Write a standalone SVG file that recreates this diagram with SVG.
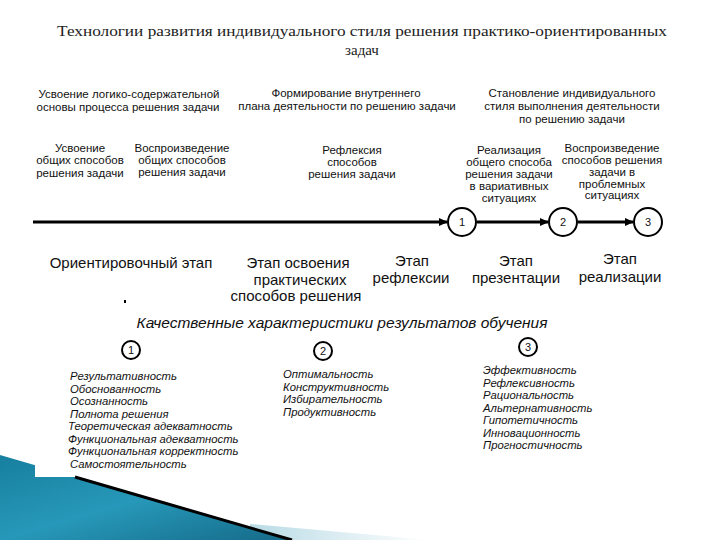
<svg xmlns="http://www.w3.org/2000/svg" width="720" height="540" viewBox="0 0 720 540">
<style>
.t{font-family:"Liberation Serif","Times New Roman","DejaVu Serif","Noto Serif",serif;font-size:15px;fill:#222;text-anchor:middle}
.h{font-family:"Liberation Sans",Arial,sans-serif;font-size:11.5px;fill:#111;text-anchor:middle}
.s{font-family:"Liberation Sans",Arial,sans-serif;font-size:15px;fill:#111;text-anchor:middle}
.i{font-family:"Liberation Sans",Arial,sans-serif;font-size:11.3px;font-style:italic;fill:#111}
.q{font-family:"Liberation Sans",Arial,sans-serif;font-size:15.5px;font-style:italic;fill:#111;text-anchor:middle}
.n{font-family:"Liberation Sans",Arial,sans-serif;font-size:11px;fill:#111;text-anchor:middle}
.c{fill:#fff;stroke:#000;stroke-width:2}
.l{stroke:#000;stroke-width:3;fill:none}
</style>
<defs>
<marker id="a" markerWidth="9" markerHeight="8" refX="8" refY="4" orient="auto" markerUnits="userSpaceOnUse"><path d="M0,0 L9,4 L0,8 z" fill="#000"/></marker>
<linearGradient id="bg" x1="0" y1="0" x2="1" y2="1"><stop offset="0" stop-color="#177f9f"/><stop offset="0.5" stop-color="#2798b9"/><stop offset="1" stop-color="#156a88"/></linearGradient>
<linearGradient id="lg" x1="0" y1="0" x2="1" y2="0"><stop offset="0" stop-color="#b9dbe6"/><stop offset="1" stop-color="#ffffff"/></linearGradient>
</defs>
<rect width="720" height="540" fill="#fff"/>
<g id="decor">
<polygon points="250,524 430,540 250,540" fill="url(#lg)"/>
<polygon points="0,455 292,540 0,540" fill="url(#bg)"/>
<rect x="35" y="440" width="200" height="37" fill="#fff"/>
<line x1="75" y1="477" x2="292" y2="540" stroke="#000" stroke-width="3"/>
</g>
<g id="title">
<text class="t" font-family="Liberation Serif, serif" x="362" y="36" textLength="610" lengthAdjust="spacingAndGlyphs">Технологии развития индивидуального стиля решения практико-ориентированных</text>
<text class="t" font-family="Liberation Serif, serif" x="362" y="55">задач</text>
</g>
<g id="top1"><text class="h" x="129" y="98">Усвоение логико-содержательной</text><text class="h" x="128" y="111">основы процесса решения задачи</text></g>
<g id="top2"><text class="h" x="346" y="97">Формирование внутреннего</text><text class="h" x="347" y="110">плана деятельности по решению задачи</text></g>
<g id="top3"><text class="h" x="572" y="97">Становление индивидуального</text><text class="h" x="572" y="110">стиля выполнения деятельности</text><text class="h" x="572" y="123">по решению задачи</text></g>
<g id="sub1"><text class="h" x="80" y="152">Усвоение</text><text class="h" x="80" y="164">общих способов</text><text class="h" x="80" y="177">решения задачи</text></g>
<g id="sub2"><text class="h" x="182" y="152">Воспроизведение</text><text class="h" x="182" y="164">общих способов</text><text class="h" x="182" y="176">решения задачи</text></g>
<g id="sub3"><text class="h" x="352" y="154">Рефлексия</text><text class="h" x="352" y="166">способов</text><text class="h" x="352" y="178">решения задачи</text></g>
<g id="sub4"><text class="h" x="509" y="154">Реализация</text><text class="h" x="509" y="166">общего способа</text><text class="h" x="509" y="178">решения задачи</text><text class="h" x="509" y="190">в вариативных</text><text class="h" x="509" y="202">ситуациях</text></g>
<g id="sub5"><text class="h" x="612" y="152">Воспроизведение</text><text class="h" x="612" y="164">способов решения</text><text class="h" x="612" y="176">задачи в</text><text class="h" x="612" y="188">проблемных</text><text class="h" x="612" y="199">ситуациях</text></g>
<g id="connectors">
<line class="l" x1="33" y1="222" x2="447" y2="222" marker-end="url(#a)"/>
<line class="l" x1="477" y1="222" x2="548" y2="222" marker-end="url(#a)"/>
<line class="l" x1="578" y1="222" x2="633" y2="222" marker-end="url(#a)"/>
</g>
<g id="c1"><circle class="c" cx="462" cy="222" r="14"/><text class="n" x="462" y="226">1</text></g>
<g id="c2"><circle class="c" cx="563" cy="222" r="14"/><text class="n" x="563" y="226">2</text></g>
<g id="c3"><circle class="c" cx="648" cy="222" r="14"/><text class="n" x="648" y="226">3</text></g>
<g id="st1"><text class="s" x="131" y="268">Ориентировочный этап</text></g>
<g id="st2"><text class="s" x="298" y="268">Этап освоения</text><text class="s" x="300" y="285">практических</text><text class="s" x="296" y="301">способов решения</text></g>
<g id="st3"><text class="s" x="412" y="266">Этап</text><text class="s" x="411" y="283">рефлексии</text></g>
<g id="st4"><text class="s" x="516" y="266">Этап</text><text class="s" x="516" y="283">презентации</text></g>
<g id="st5"><text class="s" x="620" y="264">Этап</text><text class="s" x="620" y="282">реализации</text></g>
<rect x="124" y="300" width="2" height="3" fill="#000"/>
<g id="quality"><text class="q" x="342" y="328">Качественные характеристики результатов обучения</text></g>
<g id="k1"><circle cx="131" cy="350" r="9" fill="#fff" stroke="#000" stroke-width="2"/><text class="n" x="131" y="354" font-size="10">1</text></g>
<g id="k2"><circle cx="323" cy="351" r="9" fill="#fff" stroke="#000" stroke-width="2"/><text class="n" x="323" y="355" font-size="10">2</text></g>
<g id="k3"><circle cx="528" cy="347" r="9" fill="#fff" stroke="#000" stroke-width="2"/><text class="n" x="528" y="351" font-size="10">3</text></g>
<g id="list1">
<text class="i" x="70" y="380">Результативность</text>
<text class="i" x="70" y="392.5">Обоснованность</text>
<text class="i" x="70" y="405">Осознанность</text>
<text class="i" x="70" y="417.5">Полнота решения</text>
<text class="i" x="68" y="430">Теоретическая адекватность</text>
<text class="i" x="68" y="442.5">Функциональная адекватность</text>
<text class="i" x="68" y="455">Функциональная корректность</text>
<text class="i" x="70" y="467.5">Самостоятельность</text>
</g>
<g id="list2">
<text class="i" x="283" y="378">Оптимальность</text>
<text class="i" x="283" y="390.5">Конструктивность</text>
<text class="i" x="283" y="403">Избирательность</text>
<text class="i" x="283" y="415.5">Продуктивность</text>
</g>
<g id="list3">
<text class="i" x="483" y="374">Эффективность</text>
<text class="i" x="483" y="386.5">Рефлексивность</text>
<text class="i" x="483" y="399">Рациональность</text>
<text class="i" x="483" y="411.5">Альтернативность</text>
<text class="i" x="483" y="424">Гипотетичность</text>
<text class="i" x="483" y="436.5">Инновационность</text>
<text class="i" x="483" y="449">Прогностичность</text>
</g>
</svg>
